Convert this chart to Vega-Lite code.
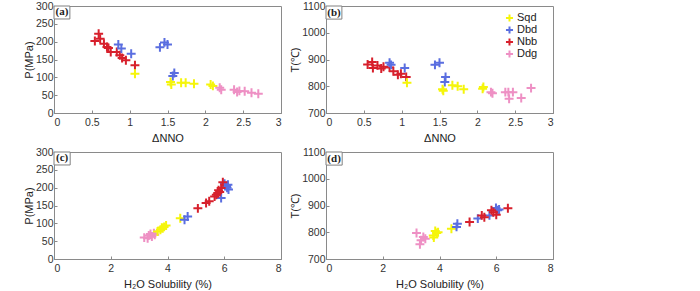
{
  "$schema": "https://vega.github.io/schema/vega-lite/v6.json",
  "background": "white",
  "padding": {"left": 22, "top": 0, "right": 5, "bottom": 0},
  "datasets": {
    "pa": [
      {"group": "Nbb", "dnno": 0.54, "P": 202}, {"group": "Nbb", "dnno": 0.59, "P": 222}, {"group": "Nbb", "dnno": 0.61, "P": 208},
      {"group": "Nbb", "dnno": 0.66, "P": 194}, {"group": "Nbb", "dnno": 0.70, "P": 185}, {"group": "Nbb", "dnno": 0.72, "P": 182},
      {"group": "Nbb", "dnno": 0.75, "P": 171}, {"group": "Nbb", "dnno": 0.83, "P": 171}, {"group": "Nbb", "dnno": 0.87, "P": 162},
      {"group": "Nbb", "dnno": 0.90, "P": 154}, {"group": "Nbb", "dnno": 0.95, "P": 148}, {"group": "Nbb", "dnno": 1.07, "P": 134},
      {"group": "Dbd", "dnno": 0.85, "P": 192}, {"group": "Dbd", "dnno": 0.89, "P": 181}, {"group": "Dbd", "dnno": 1.02, "P": 166},
      {"group": "Dbd", "dnno": 1.40, "P": 184}, {"group": "Dbd", "dnno": 1.46, "P": 198}, {"group": "Dbd", "dnno": 1.50, "P": 192},
      {"group": "Dbd", "dnno": 1.57, "P": 104}, {"group": "Dbd", "dnno": 1.59, "P": 112},
      {"group": "Sqd", "dnno": 1.07, "P": 110}, {"group": "Sqd", "dnno": 1.54, "P": 87}, {"group": "Sqd", "dnno": 1.55, "P": 80},
      {"group": "Sqd", "dnno": 1.68, "P": 85}, {"group": "Sqd", "dnno": 1.74, "P": 85}, {"group": "Sqd", "dnno": 1.85, "P": 82},
      {"group": "Sqd", "dnno": 2.07, "P": 80}, {"group": "Sqd", "dnno": 2.10, "P": 76},
      {"group": "Ddg", "dnno": 2.19, "P": 71}, {"group": "Ddg", "dnno": 2.21, "P": 65}, {"group": "Ddg", "dnno": 2.38, "P": 65},
      {"group": "Ddg", "dnno": 2.42, "P": 59}, {"group": "Ddg", "dnno": 2.45, "P": 62}, {"group": "Ddg", "dnno": 2.52, "P": 61},
      {"group": "Ddg", "dnno": 2.61, "P": 57}, {"group": "Ddg", "dnno": 2.70, "P": 54}
    ],
    "pb": [
      {"group": "Nbb", "dnno": 0.55, "T": 881}, {"group": "Nbb", "dnno": 0.61, "T": 891}, {"group": "Nbb", "dnno": 0.62, "T": 868},
      {"group": "Nbb", "dnno": 0.68, "T": 878}, {"group": "Nbb", "dnno": 0.73, "T": 866}, {"group": "Nbb", "dnno": 0.76, "T": 873},
      {"group": "Nbb", "dnno": 0.84, "T": 870}, {"group": "Nbb", "dnno": 0.89, "T": 856}, {"group": "Nbb", "dnno": 0.95, "T": 843},
      {"group": "Nbb", "dnno": 0.99, "T": 847}, {"group": "Nbb", "dnno": 1.06, "T": 835},
      {"group": "Dbd", "dnno": 0.84, "T": 888}, {"group": "Dbd", "dnno": 0.86, "T": 880}, {"group": "Dbd", "dnno": 1.04, "T": 868},
      {"group": "Dbd", "dnno": 1.44, "T": 880}, {"group": "Dbd", "dnno": 1.50, "T": 888}, {"group": "Dbd", "dnno": 1.58, "T": 835},
      {"group": "Dbd", "dnno": 1.57, "T": 816},
      {"group": "Sqd", "dnno": 1.07, "T": 813}, {"group": "Sqd", "dnno": 1.54, "T": 789}, {"group": "Sqd", "dnno": 1.55, "T": 783},
      {"group": "Sqd", "dnno": 1.67, "T": 804}, {"group": "Sqd", "dnno": 1.74, "T": 800}, {"group": "Sqd", "dnno": 1.82, "T": 789},
      {"group": "Sqd", "dnno": 2.07, "T": 791}, {"group": "Sqd", "dnno": 2.08, "T": 797},
      {"group": "Ddg", "dnno": 2.18, "T": 778}, {"group": "Ddg", "dnno": 2.20, "T": 774}, {"group": "Ddg", "dnno": 2.37, "T": 778},
      {"group": "Ddg", "dnno": 2.41, "T": 778}, {"group": "Ddg", "dnno": 2.42, "T": 753}, {"group": "Ddg", "dnno": 2.47, "T": 778},
      {"group": "Ddg", "dnno": 2.58, "T": 756}, {"group": "Ddg", "dnno": 2.71, "T": 793}
    ],
    "pc": [
      {"group": "Ddg", "h2o": 3.18, "P": 60}, {"group": "Ddg", "h2o": 3.30, "P": 58}, {"group": "Ddg", "h2o": 3.34, "P": 66},
      {"group": "Ddg", "h2o": 3.40, "P": 70}, {"group": "Ddg", "h2o": 3.45, "P": 63}, {"group": "Ddg", "h2o": 3.52, "P": 72},
      {"group": "Ddg", "h2o": 3.55, "P": 68},
      {"group": "Sqd", "h2o": 3.65, "P": 77}, {"group": "Sqd", "h2o": 3.75, "P": 82}, {"group": "Sqd", "h2o": 3.80, "P": 88},
      {"group": "Sqd", "h2o": 3.83, "P": 86}, {"group": "Sqd", "h2o": 3.88, "P": 90}, {"group": "Sqd", "h2o": 3.95, "P": 94},
      {"group": "Sqd", "h2o": 4.45, "P": 114},
      {"group": "Dbd", "h2o": 4.60, "P": 110}, {"group": "Dbd", "h2o": 4.71, "P": 119}, {"group": "Dbd", "h2o": 5.89, "P": 171},
      {"group": "Dbd", "h2o": 6.01, "P": 211}, {"group": "Dbd", "h2o": 6.08, "P": 205}, {"group": "Dbd", "h2o": 6.13, "P": 208},
      {"group": "Dbd", "h2o": 6.15, "P": 195}, {"group": "Dbd", "h2o": 6.10, "P": 200},
      {"group": "Nbb", "h2o": 5.07, "P": 142}, {"group": "Nbb", "h2o": 5.36, "P": 157}, {"group": "Nbb", "h2o": 5.47, "P": 162},
      {"group": "Nbb", "h2o": 5.66, "P": 175}, {"group": "Nbb", "h2o": 5.72, "P": 180}, {"group": "Nbb", "h2o": 5.77, "P": 184},
      {"group": "Nbb", "h2o": 5.80, "P": 193}, {"group": "Nbb", "h2o": 5.84, "P": 188}, {"group": "Nbb", "h2o": 5.89, "P": 199},
      {"group": "Nbb", "h2o": 5.95, "P": 215}
    ],
    "pd": [
      {"group": "Ddg", "h2o": 3.19, "T": 797}, {"group": "Ddg", "h2o": 3.31, "T": 755}, {"group": "Ddg", "h2o": 3.35, "T": 770},
      {"group": "Ddg", "h2o": 3.43, "T": 782}, {"group": "Ddg", "h2o": 3.50, "T": 776},
      {"group": "Sqd", "h2o": 3.78, "T": 788}, {"group": "Sqd", "h2o": 3.80, "T": 780}, {"group": "Sqd", "h2o": 3.85, "T": 805},
      {"group": "Sqd", "h2o": 3.90, "T": 797}, {"group": "Sqd", "h2o": 3.95, "T": 800}, {"group": "Sqd", "h2o": 4.42, "T": 813},
      {"group": "Dbd", "h2o": 4.60, "T": 820}, {"group": "Dbd", "h2o": 4.63, "T": 832}, {"group": "Dbd", "h2o": 5.35, "T": 851},
      {"group": "Dbd", "h2o": 5.76, "T": 863}, {"group": "Dbd", "h2o": 5.99, "T": 891}, {"group": "Dbd", "h2o": 6.05, "T": 882},
      {"group": "Dbd", "h2o": 6.10, "T": 885},
      {"group": "Nbb", "h2o": 5.06, "T": 838}, {"group": "Nbb", "h2o": 5.49, "T": 863}, {"group": "Nbb", "h2o": 5.58, "T": 856},
      {"group": "Nbb", "h2o": 5.83, "T": 882}, {"group": "Nbb", "h2o": 5.90, "T": 875}, {"group": "Nbb", "h2o": 6.00, "T": 865},
      {"group": "Nbb", "h2o": 6.41, "T": 890}
    ]
  },
  "columns": 2,
  "bounds": "flush",
  "spacing": {"row": 39, "column": 45},
  "resolve": {"scale": {"x": "independent", "y": "independent", "color": "independent"}, "legend": {"color": "independent"}},
  "concat": [
    {
      "width": 227, "height": 107,
      "layer": [
        {
          "data": {"name": "pa"},
          "mark": {"type": "point", "shape": "M-1,0L1,0M0,-1L0,1", "filled": false, "strokeWidth": 2, "size": 80, "opacity": 1},
          "encoding": {
            "x": {"field": "dnno", "type": "quantitative", "scale": {"domain": [0, 3], "nice": false}, "axis": {"title": "ΔNNO", "values": [0, 0.5, 1, 1.5, 2, 2.5, 3], "tickCount": 20, "format": "~g"}},
            "y": {"field": "P", "type": "quantitative", "scale": {"domain": [0, 300], "nice": false}, "axis": {"title": "P(MPa)", "values": [0, 50, 100, 150, 200, 250, 300], "tickCount": 20, "format": "d"}},
            "color": {"field": "group", "type": "nominal", "scale": {"domain": ["Sqd", "Dbd", "Nbb", "Ddg"], "range": ["#F5F50A", "#5A6EE0", "#D7202C", "#EE90C4"]}, "legend": null}
          }
        },
        {
          "data": {"values": [{}]},
          "mark": {"type": "rect", "fill": "white", "stroke": "#808080", "strokeWidth": 1},
          "encoding": {"x": {"datum": 0}, "x2": {"datum": 0.21}, "y": {"datum": 300}, "y2": {"datum": 263.6}}
        },
        {
          "data": {"values": [{}]},
          "mark": {"type": "text", "text": "(a)", "font": "Liberation Serif", "fontWeight": "bold", "fontSize": 11, "align": "center", "baseline": "middle", "color": "#222"},
          "encoding": {"x": {"datum": 0.105}, "y": {"datum": 282}}
        }
      ]
    },
    {
      "width": 227, "height": 107,
      "layer": [
        {
          "data": {"name": "pb"},
          "mark": {"type": "point", "shape": "M-1,0L1,0M0,-1L0,1", "filled": false, "strokeWidth": 2, "size": 80, "opacity": 1},
          "encoding": {
            "x": {"field": "dnno", "type": "quantitative", "scale": {"domain": [0, 3], "nice": false}, "axis": {"title": "ΔNNO", "values": [0, 0.5, 1, 1.5, 2, 2.5, 3], "tickCount": 20, "format": "~g"}},
            "y": {"field": "T", "type": "quantitative", "scale": {"domain": [700, 1100], "nice": false, "zero": false}, "axis": {"title": "T(℃)", "values": [700, 800, 900, 1000, 1100], "tickCount": 20, "format": "d"}},
            "color": {"field": "group", "type": "nominal", "scale": {"domain": ["Sqd", "Dbd", "Nbb", "Ddg"], "range": ["#F5F50A", "#5A6EE0", "#D7202C", "#EE90C4"]},
              "legend": {"orient": "none", "legendX": 178, "legendY": 6, "title": null, "symbolType": "M-1,0L1,0M0,-1L0,1", "symbolSize": 50, "symbolStrokeWidth": 2, "labelFontSize": 11, "labelFont": "Liberation Sans", "labelColor": "#222", "rowPadding": 0, "clipHeight": 12, "labelOffset": 2, "padding": 0}}
          }
        },
        {
          "data": {"values": [{}]},
          "mark": {"type": "rect", "fill": "white", "stroke": "#808080", "strokeWidth": 1},
          "encoding": {"x": {"datum": 0}, "x2": {"datum": 0.21}, "y": {"datum": 1100}, "y2": {"datum": 1051}}
        },
        {
          "data": {"values": [{}]},
          "mark": {"type": "text", "text": "(b)", "font": "Liberation Serif", "fontWeight": "bold", "fontSize": 11, "align": "center", "baseline": "middle", "color": "#222"},
          "encoding": {"x": {"datum": 0.105}, "y": {"datum": 1075}}
        }
      ]
    },
    {
      "width": 227, "height": 107,
      "layer": [
        {
          "data": {"name": "pc"},
          "mark": {"type": "point", "shape": "M-1,0L1,0M0,-1L0,1", "filled": false, "strokeWidth": 2, "size": 80, "opacity": 1},
          "encoding": {
            "x": {"field": "h2o", "type": "quantitative", "scale": {"domain": [0, 8], "nice": false}, "axis": {"title": "H₂O Solubility (%)", "values": [0, 2, 4, 6, 8], "tickCount": 20, "format": "d"}},
            "y": {"field": "P", "type": "quantitative", "scale": {"domain": [0, 300], "nice": false}, "axis": {"title": "P(MPa)", "values": [0, 50, 100, 150, 200, 250, 300], "tickCount": 20, "format": "d"}},
            "color": {"field": "group", "type": "nominal", "scale": {"domain": ["Sqd", "Dbd", "Nbb", "Ddg"], "range": ["#F5F50A", "#5A6EE0", "#D7202C", "#EE90C4"]}, "legend": null}
          }
        },
        {
          "data": {"values": [{}]},
          "mark": {"type": "rect", "fill": "white", "stroke": "#808080", "strokeWidth": 1},
          "encoding": {"x": {"datum": 0}, "x2": {"datum": 0.57}, "y": {"datum": 300}, "y2": {"datum": 263.6}}
        },
        {
          "data": {"values": [{}]},
          "mark": {"type": "text", "text": "(c)", "font": "Liberation Serif", "fontWeight": "bold", "fontSize": 11, "align": "center", "baseline": "middle", "color": "#222"},
          "encoding": {"x": {"datum": 0.285}, "y": {"datum": 282}}
        }
      ]
    },
    {
      "width": 227, "height": 107,
      "layer": [
        {
          "data": {"name": "pd"},
          "mark": {"type": "point", "shape": "M-1,0L1,0M0,-1L0,1", "filled": false, "strokeWidth": 2, "size": 80, "opacity": 1},
          "encoding": {
            "x": {"field": "h2o", "type": "quantitative", "scale": {"domain": [0, 8], "nice": false}, "axis": {"title": "H₂O Solubility (%)", "values": [0, 2, 4, 6, 8], "tickCount": 20, "format": "d"}},
            "y": {"field": "T", "type": "quantitative", "scale": {"domain": [700, 1100], "nice": false, "zero": false}, "axis": {"title": "T(℃)", "values": [700, 800, 900, 1000, 1100], "tickCount": 20, "format": "d"}},
            "color": {"field": "group", "type": "nominal", "scale": {"domain": ["Sqd", "Dbd", "Nbb", "Ddg"], "range": ["#F5F50A", "#5A6EE0", "#D7202C", "#EE90C4"]}, "legend": null}
          }
        },
        {
          "data": {"values": [{}]},
          "mark": {"type": "rect", "fill": "white", "stroke": "#808080", "strokeWidth": 1},
          "encoding": {"x": {"datum": 0}, "x2": {"datum": 0.57}, "y": {"datum": 1100}, "y2": {"datum": 1051}}
        },
        {
          "data": {"values": [{}]},
          "mark": {"type": "text", "text": "(d)", "font": "Liberation Serif", "fontWeight": "bold", "fontSize": 11, "align": "center", "baseline": "middle", "color": "#222"},
          "encoding": {"x": {"datum": 0.285}, "y": {"datum": 1075}}
        }
      ]
    }
  ],
  "config": {
    "view": {"stroke": "#8a8a8a", "strokeWidth": 1},
    "axis": {
      "grid": false,
      "domainColor": "#8a8a8a",
      "tickColor": "#8a8a8a",
      "tickSize": -3,
      "labelOverlap": false,
      "labelFont": "Liberation Sans",
      "labelFontSize": 10.5,
      "labelColor": "#333",
      "titleFont": "Liberation Sans",
      "titleFontSize": 11,
      "titleFontWeight": "normal",
      "titleColor": "#222"
    },
    "axisX": {"labelPadding": 7, "titlePadding": 5},
    "axisY": {"labelPadding": 4, "titlePadding": 1}
  }
}
